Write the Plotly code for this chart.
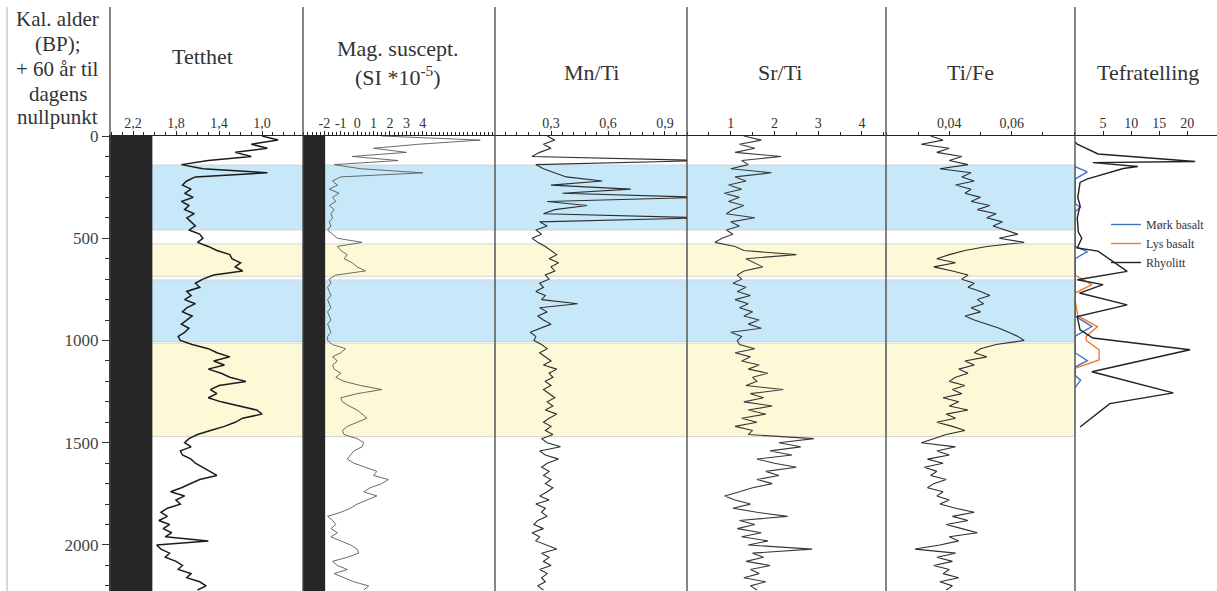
import plotly.graph_objects as go

W, H = 1217, 591
SERIF = "Liberation Serif, Times New Roman, serif"

# ---------------- data ----------------
age = list(range(0, 2240, 20))  # calibrated age (BP), sampling grid

tetthet = [1.00, 0.85, 1.10, 0.95, 1.25, 1.10, 1.50, 1.75, 1.55, 0.95,
           1.62, 1.70, 1.74, 1.66, 1.72, 1.64, 1.75, 1.68, 1.72, 1.63,
           1.70, 1.66, 1.62, 1.68, 1.58, 1.55, 1.60, 1.50, 1.42, 1.30,
           1.28, 1.20, 1.25, 1.18, 1.45, 1.55, 1.62, 1.58, 1.70, 1.66,
           1.72, 1.62, 1.70, 1.74, 1.65, 1.70, 1.75, 1.68, 1.72, 1.78,
           1.76, 1.65, 1.50, 1.42, 1.30, 1.45, 1.35, 1.50, 1.38, 1.30,
           1.15, 1.40, 1.48, 1.42, 1.50, 1.38, 1.20, 1.05, 1.00, 1.18,
           1.25, 1.35, 1.48, 1.60, 1.68, 1.72, 1.66, 1.76, 1.74, 1.66,
           1.62, 1.55, 1.48, 1.42, 1.58, 1.66, 1.75, 1.85, 1.72, 1.80,
           1.76, 1.88, 1.94, 1.88, 1.96, 1.86, 1.92, 1.84, 1.90, 1.50,
           1.98, 1.94, 1.86, 1.90, 1.80, 1.74, 1.78, 1.66, 1.70, 1.58,
           1.52, 1.60]

mag_sus = [1.5, 7.5, 3.8, 1.0, 3.0, -0.3, 2.5, -1.4, 0.2, 4.0,
           -1.0, -1.5, -1.2, -1.7, -1.1, -1.5, -1.3, -1.7, -1.4, -1.6,
           -1.5, -1.7, -1.6, -1.8, -1.5, -1.2, 0.3, -1.2, -1.0, -0.6,
           -0.8, -0.3, 0.0, 0.5, -1.3, -1.7, -1.6, -1.8, -1.7, -1.6,
           -1.8, -1.7, -1.6, -1.8, -1.7, -1.6, -1.8, -1.7, -1.6, -1.8,
           -1.8, -1.5, -0.7, -1.0, -1.5, -1.2, -1.5, -1.4, -1.0, -1.3,
           -0.8, 0.2, 1.5, 0.0, -1.0, -0.9, -0.5, 0.0, 0.3, 0.6,
           0.0, -0.6, -0.9, -0.8, 0.0, 0.4, 0.3, -0.2, -0.4, -0.6,
           -0.2, 0.5, 1.2, 1.0, 1.9, 1.5, 0.8, 0.4, 1.2, 0.6,
           0.0, -0.4, -1.0, -1.8, -1.5, -1.3, -1.6, -1.2, -1.6, -1.0,
           -0.4, 0.0, 0.1, -0.6, -1.5, -1.2, -0.6, -1.4, -0.8, -0.2,
           0.7, 0.4]

mn_ti = [0.28, 0.32, 0.26, 0.30, 0.24, 0.20, 1.10, 0.22, 0.26, 0.32,
         0.38, 0.57, 0.30, 0.72, 0.36, 1.10, 0.28, 0.49, 0.32, 0.26,
         1.10, 0.24, 0.28, 0.22, 0.25, 0.20, 0.23, 0.27, 0.30, 0.33,
         0.29, 0.34, 0.30, 0.32, 0.27, 0.29, 0.24, 0.26, 0.22, 0.27,
         0.25, 0.44, 0.24, 0.28, 0.23, 0.26, 0.30, 0.24, 0.19, 0.22,
         0.21, 0.25, 0.28, 0.24, 0.27, 0.30, 0.26, 0.33, 0.29, 0.31,
         0.27, 0.30, 0.26, 0.29, 0.32, 0.28, 0.31, 0.27, 0.33, 0.29,
         0.26, 0.30, 0.27, 0.31, 0.25, 0.28, 0.35, 0.24, 0.27, 0.34,
         0.28, 0.25, 0.29, 0.26, 0.30, 0.27, 0.31, 0.28, 0.24, 0.29,
         0.22, 0.27, 0.25, 0.28, 0.23, 0.21, 0.26, 0.20, 0.24, 0.22,
         0.27, 0.33, 0.25, 0.29, 0.26, 0.30, 0.24, 0.28, 0.25, 0.27,
         0.23, 0.26]

sr_ti = [1.30, 1.70, 1.20, 1.55, 1.10, 2.15, 1.25, 1.40, 1.00, 1.93,
         1.10, 1.35, 0.95, 1.25, 0.85, 1.20, 0.95, 1.30, 1.05, 0.90,
         1.55, 1.00, 1.20, 0.90, 1.05, 0.80, 0.64, 1.10, 1.30, 2.50,
         1.35, 1.55, 1.73, 1.30, 1.15, 1.25, 1.05, 1.35, 1.15, 1.45,
         1.10, 1.40, 1.20, 1.50, 1.30, 1.65, 1.40, 1.70, 1.00, 1.25,
         1.15, 1.20, 1.55, 1.10, 1.45, 1.25, 1.65, 1.40, 1.85, 1.50,
         1.60, 1.35, 2.20, 1.45, 1.75, 1.30, 1.95, 1.40, 1.80, 1.25,
         1.60, 1.10, 1.50, 1.40, 2.90, 2.10, 2.60, 1.90, 2.40, 1.60,
         2.00, 2.50, 1.80, 2.10, 1.60, 1.95, 1.50, 1.20, 0.86, 1.10,
         1.45, 1.05, 1.60, 2.30, 1.20, 1.55, 1.15, 1.70, 1.25, 1.85,
         1.40, 2.86, 1.50, 1.75, 1.35, 1.90, 1.45, 1.65, 1.30, 1.80,
         1.45, 1.60]

ti_fe = [0.034, 0.038, 0.031, 0.040, 0.036, 0.044, 0.040, 0.046, 0.037, 0.047,
         0.044, 0.048, 0.042, 0.047, 0.045, 0.050, 0.047, 0.053, 0.049, 0.055,
         0.052, 0.057, 0.054, 0.058, 0.062, 0.056, 0.064, 0.052, 0.045, 0.040,
         0.036, 0.042, 0.035, 0.041, 0.046, 0.044, 0.048, 0.046, 0.050, 0.053,
         0.049, 0.051, 0.047, 0.050, 0.045, 0.048, 0.052, 0.056, 0.059, 0.062,
         0.064, 0.055, 0.050, 0.048, 0.052, 0.045, 0.048, 0.043, 0.046, 0.042,
         0.040, 0.045, 0.041, 0.044, 0.038, 0.043, 0.040, 0.046, 0.039, 0.042,
         0.036, 0.041, 0.045, 0.039, 0.035, 0.031, 0.042, 0.036, 0.040, 0.033,
         0.038, 0.032, 0.036, 0.034, 0.039, 0.035, 0.033, 0.038, 0.036, 0.040,
         0.037, 0.042, 0.048, 0.041, 0.046, 0.039, 0.044, 0.049, 0.040, 0.043,
         0.037, 0.029, 0.042, 0.036, 0.041, 0.035, 0.040, 0.038, 0.043, 0.037,
         0.041, 0.039]

# Tephra counts (Tefratelling)
mork_age = [150, 175, 211, 330, 349, 370, 540, 565, 600, 880, 932, 980, 1060, 1099, 1130, 1170, 1194, 1230]
mork_val = [0, 2.2, 0, 0, 1.0, 0, 0, 2.2, 0, 0, 3.0, 0, 0, 2.2, 0, 0, 1.0, 0]
lys_age = [680, 727, 768, 800, 880, 932, 980, 1000, 1046, 1095, 1136]
lys_val = [0, 3.0, 0, 0, 0.5, 4.0, 2.0, 2.0, 4.3, 4.3, 0]
rhy_age = [30, 40, 88, 116, 125, 130, 149, 159, 211, 227, 300, 340, 400, 470, 500, 547,
           563, 662, 703, 727, 768, 826, 883, 948, 988, 1045, 1153, 1256, 1309, 1423]
rhy_val = [0, 0.4, 4.1, 17.5, 21.4, 3.2, 11.2, 8.6, 2.1, 0.9, 0.5, 0.9, 0.4, 0.6, 1.2, 0.4,
           4.1, 9.3, 0.4, 5.0, 0.8, 9.3, 0.4, 0.9, 3.2, 20.5, 3.0, 17.5, 6.2, 0.9]

# Shaded intervals (age BP)
band_top = [142, 528, 704, 1013]
band_bot = [460, 686, 1005, 1470]
band_col = ["#c7e8f8", "#fdf8d6", "#c7e8f8", "#fdf8d6"]

age_ticks = [0, 500, 1000, 1500, 2000]

# ---------------- layout geometry ----------------
panel_px = [110, 303, 495, 687, 886, 1075, 1217]
AGE_MAX = 2225
plot_top_px = 136
ydom_top = 1 - plot_top_px / H

def px(x):
    return x / W

def py(y):
    return 1 - y / H

axes_spec = [
    dict(rng=[2.414, 0.619], tv=[2.2, 1.8, 1.4, 1.0], tt=["2,2", "1,8", "1,4", "1,0"], minor=0.1),
    dict(rng=[-3.3, 8.4], tv=[-2, -1, 0, 1, 2, 3, 4], tt=["-2", "-1", "0", "1", "2", "3", "4"], minor=0.25),
    dict(rng=[0.005, 1.016], tv=[0.3, 0.6, 0.9], tt=["0,3", "0,6", "0,9"], minor=0.06),
    dict(rng=[0.0, 4.55], tv=[1, 2, 3, 4], tt=["1", "2", "3", "4"], minor=0.5),
    dict(rng=[0.0197, 0.0803], tv=[0.04, 0.06], tt=["0,04", "0,06"], minor=0.01),
    dict(rng=[0.0, 25.3], tv=[5, 10, 15, 20], tt=["5", "10", "15", "20"], minor=None),
]

fig = go.Figure()

series = [tetthet, mag_sus, mn_ti, sr_ti, ti_fe]
styles = [dict(color="#1c1c1c", width=1.5),
          dict(color="#5a5a5a", width=0.9),
          dict(color="#2e2e2e", width=1.1),
          dict(color="#3a3a3a", width=1.1),
          dict(color="#2e2e2e", width=1.1)]
for i, (vals, st) in enumerate(zip(series, styles)):
    xa = "x" if i == 0 else f"x{i + 1}"
    fig.add_trace(go.Scatter(x=vals, y=age, mode="lines", line=st,
                             xaxis=xa, yaxis="y", showlegend=False, hoverinfo="skip"))

for name, a, v, c in [("Mørk basalt", mork_age, mork_val, "#4472c4"),
                      ("Lys basalt", lys_age, lys_val, "#ed7d31"),
                      ("Rhyolitt", rhy_age, rhy_val, "#222222")]:
    fig.add_trace(go.Scatter(x=v, y=a, mode="lines", name=name,
                             line=dict(color=c, width=1.4),
                             xaxis="x6", yaxis="y", showlegend=True))

layout = dict(
    width=W, height=H, autosize=False,
    margin=dict(l=0, r=0, t=0, b=0, pad=0),
    paper_bgcolor="white", plot_bgcolor="rgba(0,0,0,0)",
    font=dict(family=SERIF, color="#333"),
    showlegend=True,
    legend=dict(x=px(1106), xanchor="left", y=py(210), yanchor="top",
                font=dict(family=SERIF, size=12, color="#333"),
                bgcolor="rgba(0,0,0,0)", itemwidth=30, tracegroupgap=0),
    yaxis=dict(domain=[0, ydom_top], range=[AGE_MAX, 0], anchor="x",
               tickvals=age_ticks, ticks="outside", ticklen=7, tickwidth=1.2,
               tickcolor="#333", showline=True, linecolor="#333", linewidth=1.2,
               showgrid=False, zeroline=False, automargin=False,
               tickfont=dict(family=SERIF, size=17, color="#444"),
               minor=dict(ticks="outside", ticklen=4, dtick=100, tick0=0, tickcolor="#333")),
)
for i, sp in enumerate(axes_spec):
    key = "xaxis" if i == 0 else f"xaxis{i + 1}"
    ax = dict(domain=[px(panel_px[i]), px(panel_px[i + 1])], range=sp["rng"],
              anchor="y", side="top", tickvals=sp["tv"], ticktext=sp["tt"],
              ticks="outside", ticklen=4, tickcolor="#222", tickwidth=1,
              showline=True, linecolor="#222", linewidth=1.3,
              showgrid=False, zeroline=False, automargin=False,
              tickfont=dict(family=SERIF, size=14, color="#333"))
    if sp["minor"]:
        ax["minor"] = dict(ticks="outside", ticklen=3, dtick=sp["minor"], tick0=0, tickcolor="#222")
    layout[key] = ax
fig.update_layout(**layout)

# pull the top tick labels a little closer to the axis line, as in the reference
try:
    fig.update_xaxes(ticklabelstandoff=-3)
except Exception:
    pass

shapes = []
# shaded intervals, per data panel
for i in range(5):
    xr = "x domain" if i == 0 else f"x{i + 1} domain"
    for t, b, c in zip(band_top, band_bot, band_col):
        shapes.append(dict(type="rect", xref=xr, yref="y", x0=0, x1=1, y0=t, y1=b,
                           fillcolor=c, line=dict(color="#d4d4d4", width=1), layer="below"))
# black columns on the density and susceptibility panels
shapes.append(dict(type="rect", xref="x", yref="y", x0=axes_spec[0]["rng"][0], x1=2.02,
                   y0=0, y1=AGE_MAX, fillcolor="#262626", line=dict(width=0), layer="below"))
shapes.append(dict(type="rect", xref="x2", yref="y", x0=axes_spec[1]["rng"][0], x1=-1.95,
                   y0=0, y1=AGE_MAX, fillcolor="#262626", line=dict(width=0), layer="below"))
# panel dividers
for xp in panel_px[:-1]:
    shapes.append(dict(type="line", xref="paper", yref="paper", x0=px(xp), x1=px(xp),
                       y0=0, y1=py(7), line=dict(color="#444", width=1.3), layer="above"))
shapes.append(dict(type="line", xref="paper", yref="paper", x0=px(7), x1=px(7),
                   y0=0, y1=py(7), line=dict(color="#b0b0b0", width=1), layer="above"))
fig.update_layout(shapes=shapes)

ann = []
left_lines = ["Kal. alder", "(BP);", "+ 60 år til", "dagens", "nullpunkt"]
left_y = [19, 44, 69, 94, 117]
for t, yy in zip(left_lines, left_y):
    ann.append(dict(text=t, x=px(58), y=py(yy), xref="paper", yref="paper",
                    showarrow=False, xanchor="center", yanchor="middle",
                    font=dict(family=SERIF, size=21, color="#333")))
title_pos = [(202, [57]), (398, [48, 76]), (591, [72]), (780, [72]), (970, [72]), (1148, [72])]
title_txt = [["Tetthet"], ["Mag. suscept.", "(SI *10<sup>-5</sup>)"], ["Mn/Ti"], ["Sr/Ti"], ["Ti/Fe"], ["Tefratelling"]]
for (xx, ys), txts in zip(title_pos, title_txt):
    for yy, t in zip(ys, txts):
        ann.append(dict(text=t, x=px(xx), y=py(yy), xref="paper", yref="paper",
                        showarrow=False, xanchor="center", yanchor="middle",
                        font=dict(family=SERIF, size=22, color="#333")))
fig.update_layout(annotations=ann)

fig.write_html("out.html",
               post_script="document.body.style.margin='0';document.body.style.overflow='hidden';")
